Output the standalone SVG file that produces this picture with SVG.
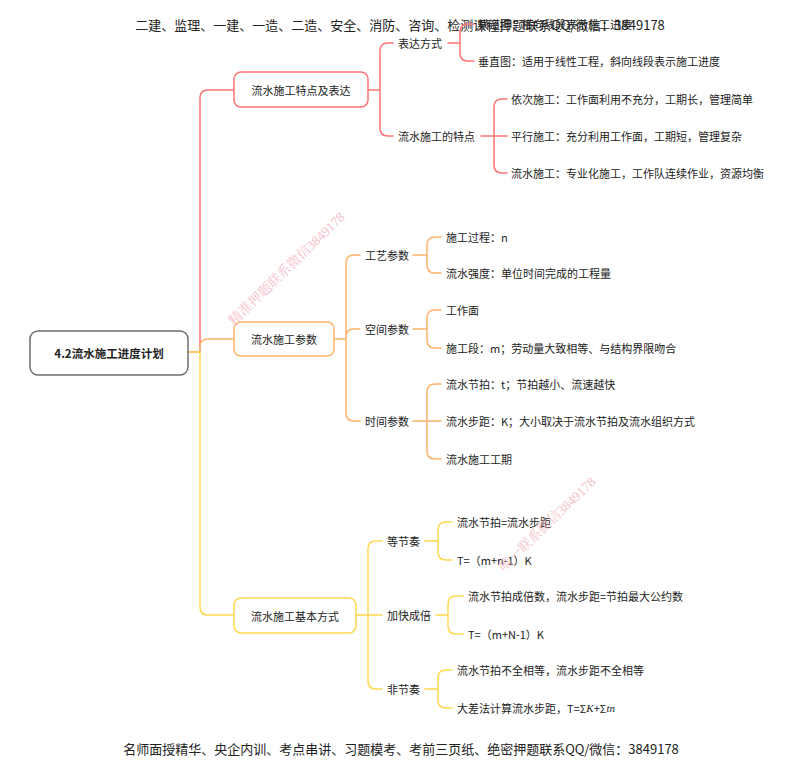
<svg xmlns="http://www.w3.org/2000/svg" width="800" height="771" viewBox="0 0 800 771">
<style>
text{font-family:"Noto Sans CJK SC","Noto Sans",sans-serif;fill:#222;dominant-baseline:central}
.hd{font-size:13px;text-anchor:middle}
.t{font-size:11px}
.n{font-size:11px;text-anchor:middle}
.root{font-size:11.5px;font-weight:bold;text-anchor:middle}
.wm{font-family:"Liberation Serif","Noto Serif CJK SC","Noto Sans CJK SC",serif;font-size:13.5px;fill:#f2a5b3;opacity:0.7;dominant-baseline:alphabetic}
.c{fill:none;stroke-width:1.5;stroke-linecap:round;stroke-linejoin:round}
.r{stroke:#ff7373}.o{stroke:#ffb36b}.y{stroke:#ffd84d}
.box{fill:#fff;stroke-width:1.5}
.mi{font-family:"Liberation Serif",serif;font-style:italic}
</style>
<rect width="800" height="771" fill="#fff"/>
<text class="hd" x="400" y="24">二建、监理、一建、一造、二造、安全、消防、咨询、检测课程押题联系QQ/微信：3849178</text>
<text class="hd" x="401" y="748">名师面授精华、央企内训、考点串讲、习题模考、考前三页纸、绝密押题联系QQ/微信：3849178</text>
<g id="connectors">
<path class="c r" d="M188,352 H200 V98 Q200,90 208,90 H234"/>
<path class="c o" d="M200,352 V347 Q200,339 208,339 H234"/>
<path class="c y" d="M188,352 H200 V607 Q200,615 208,615 H234"/>
<path class="c r" d="M368,90 H380 M380,90 V51 Q380,43 388,43 H393 M380,90 V128 Q380,136 388,136 H393"/>
<path class="c r" d="M448,43 H460 V32 Q460,24 468,24 H474 M460,43 V53 Q460,61 468,61 H474"/>
<path class="c r" d="M481,136 H507 M494,136 V107 Q494,99 502,99 H507 M494,136 V165 Q494,173 502,173 H507"/>
<path class="c o" d="M334,339 H346 M346,339 V263 Q346,255 354,255 H360 M346,339 V337 Q346,329 354,329 H360 M346,339 V413 Q346,421 354,421 H360"/>
<path class="c o" d="M413,255 H427 V245 Q427,237 435,237 H441 M427,255 V265 Q427,273 435,273 H441"/>
<path class="c o" d="M413,329 H427 V318 Q427,310 435,310 H441 M427,329 V340 Q427,348 435,348 H441"/>
<path class="c o" d="M413,421 H441 M427,421 V392 Q427,384 435,384 H441 M427,421 V451 Q427,459 435,459 H441"/>
<path class="c y" d="M356,615 H382 M368,615 V549 Q368,541 376,541 H382 M368,615 V681 Q368,689 376,689 H382"/>
<path class="c y" d="M425,541 H438 V530 Q438,522 446,522 H452 M438,541 V552 Q438,560 446,560 H452"/>
<path class="c y" d="M436,615 H448 V604 Q448,596 456,596 H463 M448,615 V626 Q448,634 456,634 H463"/>
<path class="c y" d="M425,689 H438 V678 Q438,670 446,670 H452 M438,689 V700 Q438,708 446,708 H452"/>
</g>
<g id="root"><rect class="box" x="30" y="331" width="158" height="44" rx="8" stroke="#6e6e6e"/><text class="root" x="109" y="353">4.2流水施工进度计划</text></g>
<g id="n1"><rect class="box" x="234" y="72" width="134" height="35" rx="7" stroke="#ff7373"/><text class="n" x="301" y="89.5">流水施工特点及表达</text></g>
<g id="n1a"><text class="t" x="398" y="43">表达方式</text></g>
<g id="n1a1"><text class="t" x="478" y="24">横道图：横向线段表示施工进度</text></g>
<g id="n1a2"><text class="t" x="478" y="61">垂直图：适用于线性工程，斜向线段表示施工进度</text></g>
<g id="n1b"><text class="t" x="398" y="136">流水施工的特点</text></g>
<g id="n1b1"><text class="t" x="511" y="99">依次施工：工作面利用不充分，工期长，管理简单</text></g>
<g id="n1b2"><text class="t" x="511" y="136">平行施工：充分利用工作面，工期短，管理复杂</text></g>
<g id="n1b3"><text class="t" x="511" y="173">流水施工：专业化施工，工作队连续作业，资源均衡</text></g>
<g id="n2"><rect class="box" x="234" y="322" width="100" height="34" rx="7" stroke="#ffb36b"/><text class="n" x="284" y="339">流水施工参数</text></g>
<g id="n2a"><text class="t" x="365" y="255">工艺参数</text></g>
<g id="n2a1"><text class="t" x="446" y="237">施工过程：n</text></g>
<g id="n2a2"><text class="t" x="446" y="273">流水强度：单位时间完成的工程量</text></g>
<g id="n2b"><text class="t" x="365" y="329">空间参数</text></g>
<g id="n2b1"><text class="t" x="446" y="310">工作面</text></g>
<g id="n2b2"><text class="t" x="446" y="348">施工段：m；劳动量大致相等、与结构界限吻合</text></g>
<g id="n2c"><text class="t" x="365" y="421">时间参数</text></g>
<g id="n2c1"><text class="t" x="446" y="384">流水节拍：t；节拍越小、流速越快</text></g>
<g id="n2c2"><text class="t" x="446" y="421">流水步距：K；大小取决于流水节拍及流水组织方式</text></g>
<g id="n2c3"><text class="t" x="446" y="459">流水施工工期</text></g>
<g id="n3"><rect class="box" x="234" y="598" width="122" height="35" rx="7" stroke="#ffd84d"/><text class="n" x="295" y="615.5">流水施工基本方式</text></g>
<g id="n3a"><text class="t" x="387" y="541">等节奏</text></g>
<g id="n3a1"><text class="t" x="457" y="522">流水节拍=流水步距</text></g>
<g id="n3a2"><text class="t" x="457" y="560">T=（m+n-1）K</text></g>
<g id="n3b"><text class="t" x="387" y="615">加快成倍</text></g>
<g id="n3b1"><text class="t" x="468" y="596">流水节拍成倍数，流水步距=节拍最大公约数</text></g>
<g id="n3b2"><text class="t" x="468" y="634">T=（m+N-1）K</text></g>
<g id="n3c"><text class="t" x="387" y="689">非节奏</text></g>
<g id="n3c1"><text class="t" x="457" y="670">流水节拍不全相等，流水步距不全相等</text></g>
<g id="n3c2"><text class="t" x="457" y="708">大差法计算流水步距，T=Σ<tspan class="mi">K</tspan>+Σ<tspan class="mi">tn</tspan></text></g>
<text class="wm" transform="translate(234,326) rotate(-44)">精准押题联系微信3849178</text>
<text class="wm" transform="translate(504,572) rotate(-44)">唯一联系微信3849178</text>
</svg>
